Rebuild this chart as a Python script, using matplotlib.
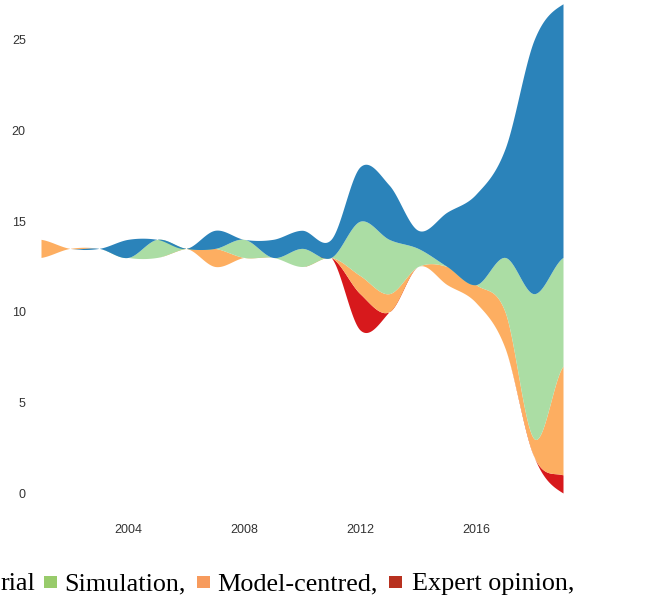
import numpy as np
import matplotlib
matplotlib.use("Agg")
import matplotlib.pyplot as plt
from matplotlib.patches import Rectangle

# papers per year and type of evidence
years = list(range(2001, 2020))
empirical = [0, 0, 0, 1, 0, 0, 1, 0, 1, 1, 1, 3, 3, 1, 3, 5, 6, 14, 14]
simulation = [0, 0, 0, 0, 1, 0, 0, 1, 0, 1, 0, 3, 3, 1, 0, 0, 3, 8, 6]
model_centred = [1, 0, 0, 0, 0, 0, 1, 0, 0, 0, 0, 1, 1, 0, 1, 1, 2, 1, 6]
expert = [0, 0, 0, 0, 0, 0, 0, 0, 0, 0, 0, 2, 0, 0, 0, 0, 0, 0, 1]

layers = [expert, model_centred, simulation, empirical]  # bottom -> top
colors = ["#d7191c", "#fdae61", "#abdda4", "#2b83ba"]

legend_labels = ["rial", "Simulation,", "Model-centred,", "Expert opinion,"]
legend_colors = ["#98cb6b", "#f79b5d", "#b8311f"]


def cardinal(x, y, xs):
    # cardinal spline, tension 0 (catmull-rom), end points doubled like d3
    x = np.asarray(x, float)
    y = np.asarray(y, float)
    n = len(x)
    yp = np.concatenate([[y[0]], y, [y[-1]]])
    t = (yp[2:] - yp[:-2]) / 2.0
    idx = np.clip(np.searchsorted(x, xs) - 1, 0, n - 2)
    hh = x[idx + 1] - x[idx]
    u = (xs - x[idx]) / hh
    h00 = 2 * u**3 - 3 * u**2 + 1
    h10 = u**3 - 2 * u**2 + u
    h01 = -2 * u**3 + 3 * u**2
    h11 = u**3 - u**2
    return h00 * y[idx] + h10 * t[idx] + h01 * y[idx + 1] + h11 * t[idx + 1]


fig = plt.figure(figsize=(6.49, 6.03), dpi=100)
ax = fig.add_axes([41 / 649, (603 - 493) / 603, 522 / 649, 27 * 18.12 / 603])

totals = np.sum(np.array(layers), axis=0)
base = (totals.max() - totals) / 2.0  # silhouette offset, kept above 0

xs = np.linspace(years[0], years[-1], 1500)
lower = base.copy()
for vals, c in zip(layers, colors):
    upper = lower + np.array(vals)
    y0 = cardinal(years, lower, xs)
    y1 = cardinal(years, upper, xs)
    ax.fill_between(xs, y0, y1, color=c, lw=0)
    lower = upper

ax.set_xlim(2001, 2019)
ax.set_ylim(0, 27)
ax.set_xticks([2004, 2008, 2012, 2016])
ax.set_yticks([0, 5, 10, 15, 20, 25])
for s in ax.spines.values():
    s.set_visible(False)
ax.tick_params(axis="both", length=0, labelsize=9, labelcolor="#333333")
ax.tick_params(axis="y", pad=11)
ax.tick_params(axis="x", pad=22)
for lab in ax.get_xticklabels() + ax.get_yticklabels():
    lab.set_fontfamily("Liberation Sans")

# caption-style legend (starts mid-word, as in the source)
fy = (603 - 590) / 603
fig.text(1 / 649, fy, legend_labels[0], ha="left", va="baseline",
         fontsize=18.8, family="Liberation Serif")
sq_x = [44, 197, 389]
txt_x = [64, 217, 412]
for i in range(3):
    fig.patches.append(Rectangle((sq_x[i] / 649, (603 - 588) / 603), 12.5 / 649, 12.5 / 603,
                                 transform=fig.transFigure, color=legend_colors[i], lw=0))
    fig.text(txt_x[i] / 649, fy, legend_labels[i + 1], ha="left", va="baseline",
             fontsize=18.8, family="Liberation Serif")

fig.savefig("out.png", dpi=100)
